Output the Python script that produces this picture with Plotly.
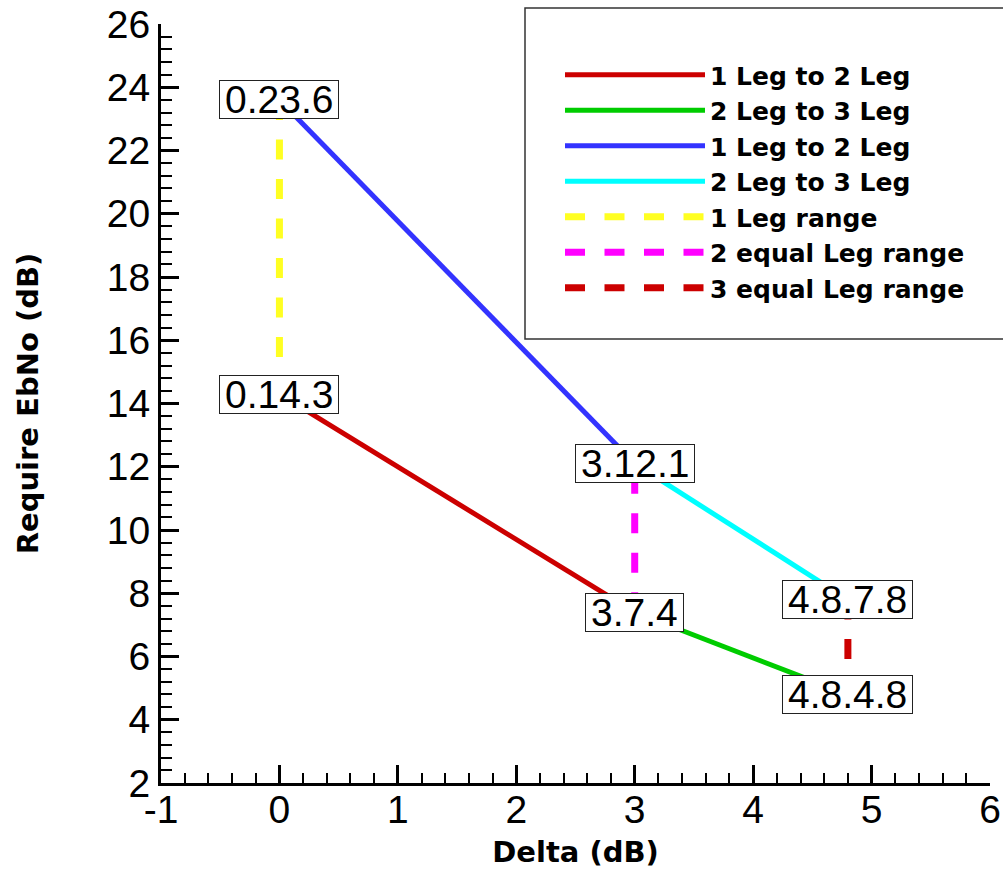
import plotly.graph_objects as go

# ---- data ----
red_x = [0, 3];      red_y = [14.3, 7.4]
green_x = [3, 4.8];  green_y = [7.4, 4.8]
blue_x = [0, 3];     blue_y = [23.6, 12.1]
cyan_x = [3, 4.8];   cyan_y = [12.1, 7.8]
yellow_x = [0, 0];   yellow_y = [23.6, 14.3]
magenta_x = [3, 3];  magenta_y = [7.4, 12.1]
dred_x = [4.8, 4.8]; dred_y = [7.8, 4.8]

label_x = [0, 0, 3, 3, 4.8, 4.8]
label_y = [23.6, 14.3, 12.1, 7.4, 7.8, 4.8]

series_names = ["1 Leg to 2 Leg", "2 Leg to 3 Leg", "1 Leg to 2 Leg", "2 Leg to 3 Leg",
                "1 Leg range", "2 equal Leg range", "3 equal Leg range"]

x_tickvals = [-1, 0, 1, 2, 3, 4, 5, 6]
x_ticktext = ["-1", "0", "1", "2", "3", "4", "5", "6"]
y_tickvals = [2, 4, 6, 8, 10, 12, 14, 16, 18, 20, 22, 24, 26]

x_range = [-1, 6]
y_range = [2, 26]

# ---- styles ----
solid_w = 5
dash_w = 7
dash_pat = "20px,19.5px"
num_font = "Liberation Sans, Arial, sans-serif"

fig = go.Figure()
specs = [
    (red_x, red_y, "#CC0000", "solid"),
    (green_x, green_y, "#00CC00", "solid"),
    (blue_x, blue_y, "#3333FF", "solid"),
    (cyan_x, cyan_y, "#00FFFF", "solid"),
    (yellow_x, yellow_y, "#FFFF22", "dash"),
    (magenta_x, magenta_y, "#FF00FF", "dash"),
    (dred_x, dred_y, "#CC0000", "dash"),
]
for (xs, ys, col, kind), name in zip(specs, series_names):
    fig.add_trace(go.Scatter(
        x=xs, y=ys, mode="lines", name=name,
        line=dict(color=col, width=solid_w if kind == "solid" else dash_w,
                  dash="solid" if kind == "solid" else dash_pat),
    ))

for lx, ly in zip(label_x, label_y):
    fig.add_annotation(
        x=lx, y=ly, xref="x", yref="y", text=f"{lx:g},{ly:g}", showarrow=False,
        font=dict(family=num_font, size=39, color="black"),
        bgcolor="white", bordercolor="#222", borderwidth=1, borderpad=5, height=27,
    )

# legend frame
fig.add_shape(type="rect", xref="paper", yref="paper",
              x0=(525 - 161) / 829, x1=1.03, y0=(783 - 339) / 759, y1=(783 - 8) / 759,
              line=dict(color="#333", width=1.5), fillcolor="white", layer="below")

axis_common = dict(
    showline=True, linecolor="black", linewidth=3, mirror=False,
    ticks="inside", ticklen=18, tickwidth=2.5, tickcolor="black",
    showgrid=False, zeroline=False,
    tickfont=dict(family=num_font, size=39, color="black"),
)

fig.update_xaxes(range=x_range, tickmode="array", tickvals=x_tickvals, ticktext=x_ticktext,
                 ticklabelstandoff=-10,
                 minor=dict(dtick=0.2, tick0=0, ticks="inside", ticklen=10, tickwidth=1.5,
                            tickcolor="black", showgrid=False),
                 title=dict(text="Delta (dB)", standoff=12,
                            font=dict(family="DejaVu Sans", size=29, color="black", weight="bold")),
                 **axis_common)
fig.update_yaxes(range=y_range, tickmode="array", tickvals=y_tickvals,
                 minor=dict(dtick=0.4, tick0=2, ticks="inside", ticklen=11, tickwidth=1.5,
                            tickcolor="black", showgrid=False),
                 title=dict(text="Require EbNo (dB)", standoff=60,
                            font=dict(family="DejaVu Sans", size=29, color="black", weight="bold")),
                 **axis_common)

fig.update_layout(
    width=1003, height=880,
    margin=dict(l=161, r=13, t=24, b=97, autoexpand=False),
    paper_bgcolor="white", plot_bgcolor="white",
    showlegend=True,
    legend=dict(
        xref="container", yref="container", x=560 / 1003, y=1 - 52 / 880,
        xanchor="left", yanchor="top",
        bgcolor="rgba(0,0,0,0)", borderwidth=0, itemwidth=140,
        font=dict(family="DejaVu Sans", size=25, color="black", weight="bold"),
        tracegroupgap=0,
    ),
)

fig.write_html("out.html")
